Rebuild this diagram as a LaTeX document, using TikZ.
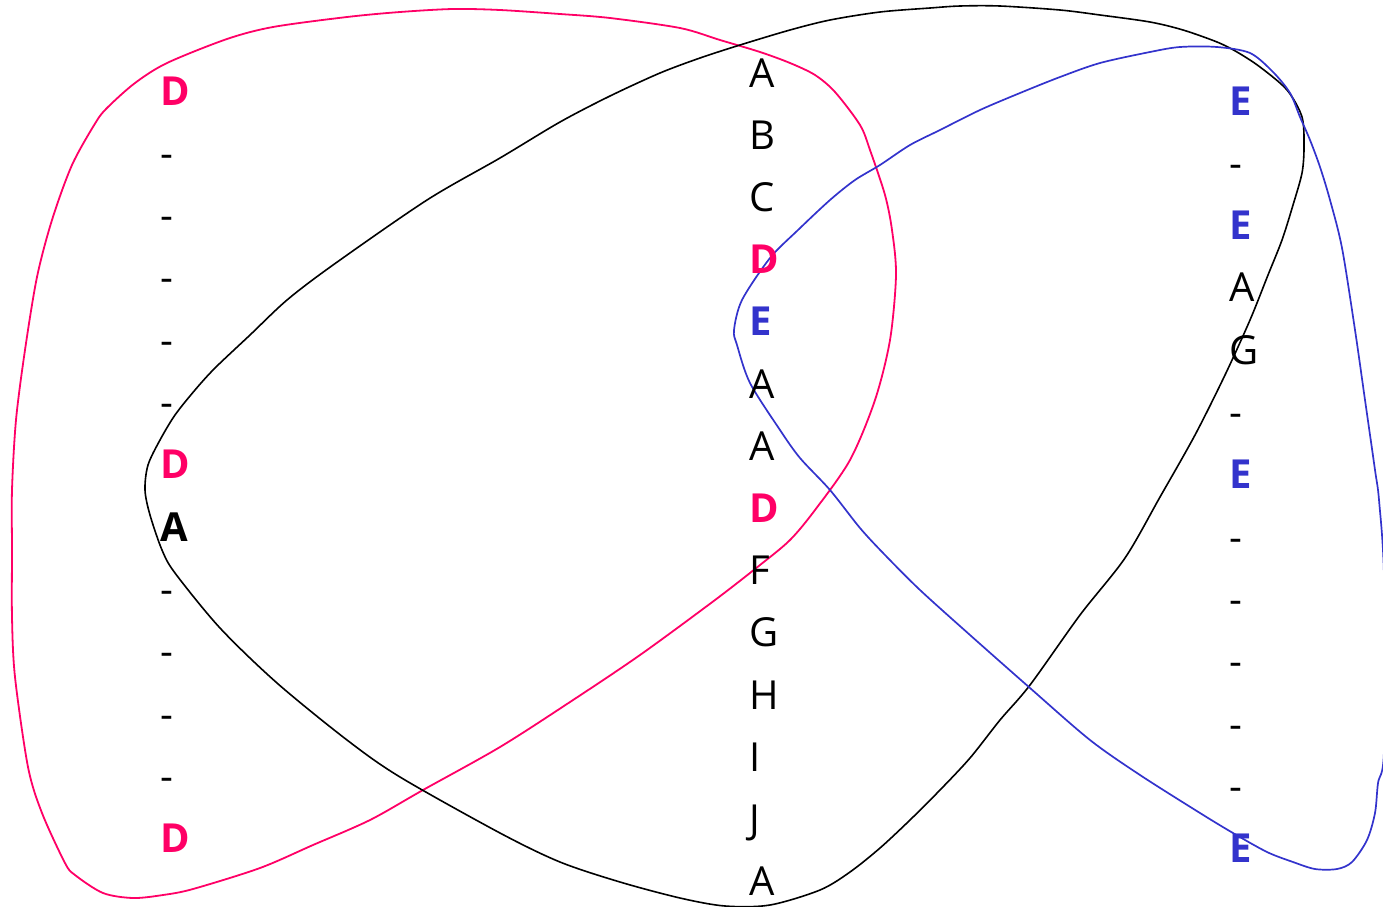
\documentclass[tikz,border=0pt]{standalone}
\usepackage{fontspec}
\setmainfont{Open Sans}
\definecolor{pinkc}{HTML}{FF0066}
\definecolor{bluec}{HTML}{3333CC}
\begin{document}
\begin{tikzpicture}[x=1pt,y=-1pt,
  lbl/.style={anchor=base west,inner sep=0pt,font=\fontsize{40}{48}\selectfont},
  pk/.style={lbl,text=pinkc,font=\fontsize{40}{48}\selectfont\bfseries},
  bl/.style={lbl,text=bluec,font=\fontsize{40}{48}\selectfont\bfseries},
  bk/.style={lbl,font=\fontsize{40}{48}\selectfont\bfseries},
  pinkline/.style={draw=pinkc,line width=1.8pt},
  blueline/.style={draw=bluec,line width=1.7pt},
  blackline/.style={draw=black,line width=1.6pt}]
\useasboundingbox (0,0) rectangle (1383,906);
% pink blob
\draw[pinkline] plot[smooth cycle] coordinates {
 (500,10) (453,9) (400,12) (347,17) (273,27) (227,39) (167,63) (135,83) (108,107) (96,122)
 (72,165) (52,220) (37,277) (25,350) (16,420) (12,490) (12,550) (12,617) (15,677) (28,767)
 (42,813) (65,863) (75,875) (103,893) (133,898) (163,895) (193,889) (260,868) (313,845)
 (370,820) (423,790) (500,747) (570,702) (640,655) (715,600) (760,565) (790,540) (815,510)
 (850,460) (875,400) (890,340) (896,275) (892,230) (885,195) (870,150) (860,125) (835,92)
 (815,75) (790,63) (760,52) (720,40) (680,28) (610,18) (560,14)};
% black blob
\draw[blackline] plot[smooth cycle] coordinates {
 (1000,6) (960,6) (930,8) (880,12) (830,20) (790,30) (740,45) (700,58) (660,73)
 (610,96) (560,122) (500,158) (427,200) (333,265) (287,300) (250,335) (215,368) (195,390)
 (175,415) (160,440) (148,465) (145,490) (150,515) (162,550) (175,573) (220,628) (277,683)
 (347,740) (400,777) (500,833) (560,862) (620,882) (680,898) (725,906) (770,905) (820,890)
 (850,872) (880,848) (910,820) (940,790) (970,758) (1000,720) (1030,685) (1080,615)
 (1125,558) (1160,497) (1195,435) (1225,375) (1250,320) (1268,275) (1282,240) (1293,205)
 (1302,173) (1304,147) (1302,117) (1287,90) (1260,67) (1237,52) (1217,42) (1183,30)
 (1150,22) (1100,15) (1060,10)};
% blue blob
\draw[blueline] plot[smooth cycle] coordinates {
 (1180,47) (1217,47) (1250,53) (1273,72) (1290,93) (1300,117) (1310,140) (1320,167)
 (1330,200) (1342,248) (1355,330) (1365,400) (1375,470) (1379,500) (1384,577) (1384,750)
 (1378,783) (1375,813) (1367,840) (1352,862) (1337,869) (1315,869) (1293,862) (1267,852)
 (1233,833) (1200,813) (1140,775) (1090,740) (1030,688) (970,635) (920,590) (885,555)
 (860,528) (830,490) (800,458) (780,430) (750,383) (737,345) (734,330) (742,300) (770,258)
 (798,230) (830,200) (855,180) (880,165) (910,145) (940,130) (980,110) (1020,93) (1060,77)
 (1100,63) (1150,52)};
% left column
\node[pk] (l1) at (160,105) {D};
\node[lbl] (l2) at (160,167.3) {-};
\node[lbl] (l3) at (160,229.6) {-};
\node[lbl] (l4) at (160,291.9) {-};
\node[lbl] (l5) at (160,354.2) {-};
\node[lbl] (l6) at (160,416.5) {-};
\node[pk] (l7) at (160,478.8) {D};
\node[bk] (l8) at (160,541.1) {A};
\node[lbl] (l9) at (160,603.4) {-};
\node[lbl] (l10) at (160,665.7) {-};
\node[lbl] (l11) at (160,728) {-};
\node[lbl] (l12) at (160,790.3) {-};
\node[pk] (l13) at (160,852.6) {D};
% middle column
\node[lbl] (m1) at (749,87) {A};
\node[lbl] (m2) at (749,149.2) {B};
\node[lbl] (m3) at (749,211.4) {C};
\node[pk] (m4) at (749,273.6) {D};
\node[bl] (m5) at (749,335.8) {E};
\node[lbl] (m6) at (749,398) {A};
\node[lbl] (m7) at (749,460.2) {A};
\node[pk] (m8) at (749,522.4) {D};
\node[lbl] (m9) at (749,584.6) {F};
\node[lbl] (m10) at (749,646.8) {G};
\node[lbl] (m11) at (749,709) {H};
\node[lbl] (m12) at (749,771.2) {I};
\node[lbl] (m13) at (749,833.4) {J};
\node[lbl] (m14) at (749,895.6) {A};
% right column
\node[bl] (r1) at (1229,115) {E};
\node[lbl] (r2) at (1229,177.3) {-};
\node[bl] (r3) at (1229,239.6) {E};
\node[lbl] (r4) at (1229,301.9) {A};
\node[lbl] (r5) at (1229,364.2) {G};
\node[lbl] (r6) at (1229,426.5) {-};
\node[bl] (r7) at (1229,488.8) {E};
\node[lbl] (r8) at (1229,551.1) {-};
\node[lbl] (r9) at (1229,613.4) {-};
\node[lbl] (r10) at (1229,675.7) {-};
\node[lbl] (r11) at (1229,738) {-};
\node[lbl] (r12) at (1229,800.3) {-};
\node[bl] (r13) at (1229,862.6) {E};
\end{tikzpicture}
\end{document}
